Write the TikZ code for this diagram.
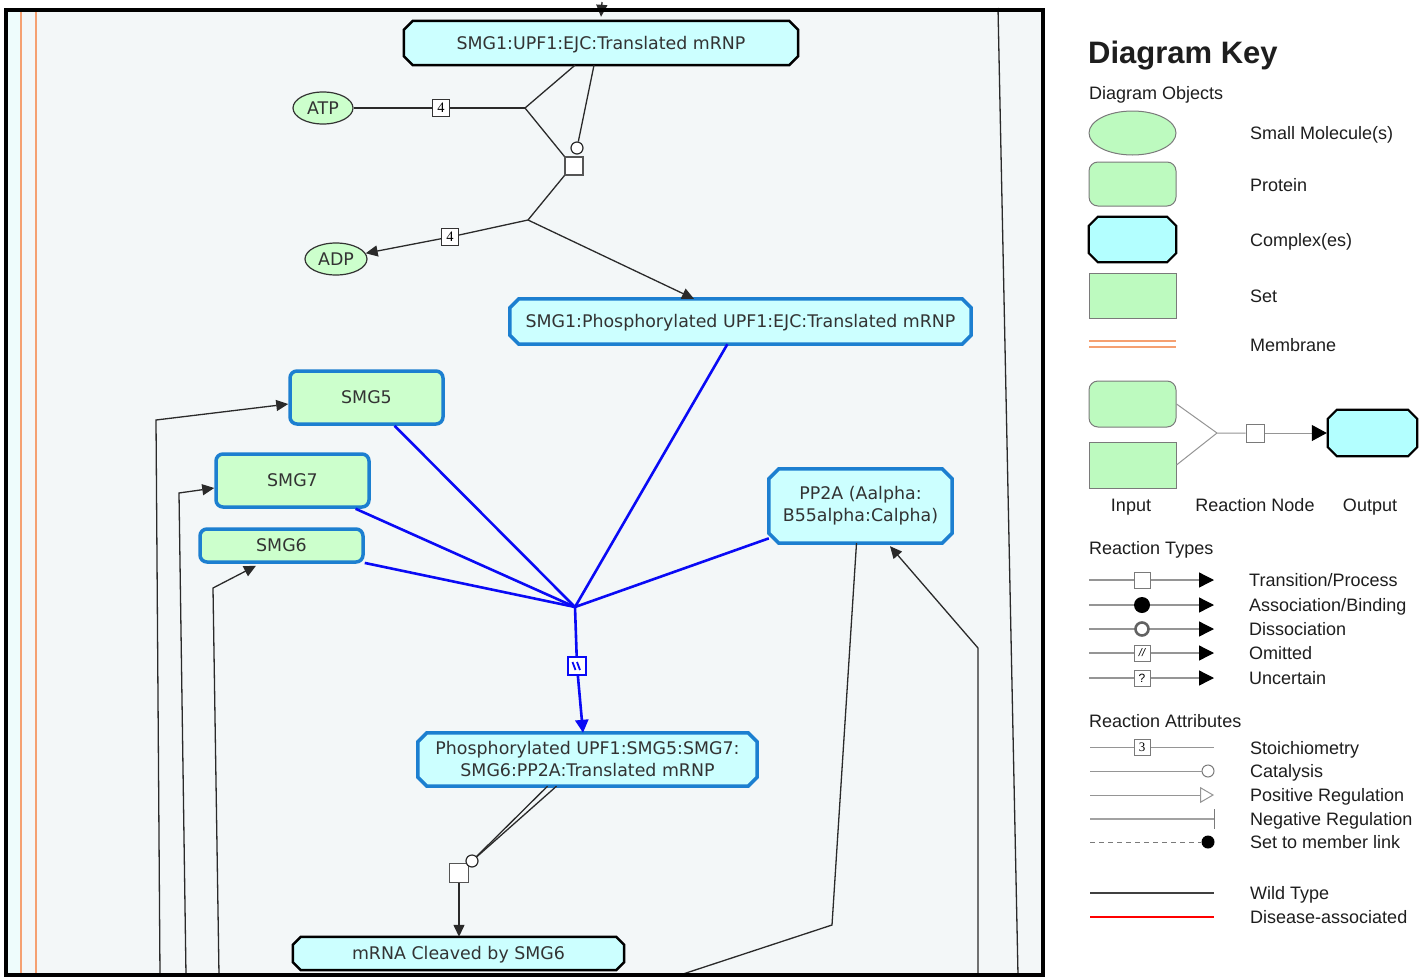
\documentclass[tikz,border=0pt]{standalone}
\usepackage{fontspec}
\setmainfont{Liberation Sans}
\newfontfamily\dv{DejaVu Sans}
\newfontfamily\tms{Liberation Serif}
\usetikzlibrary{arrows.meta,shapes.geometric}
\pgfdeclarelayer{bg}
\pgfsetlayers{bg,main}

\definecolor{panel}{HTML}{F3F7F8}
\definecolor{strip}{HTML}{EEFCFC}
\definecolor{membc}{HTML}{F5A071}
\definecolor{cpxfill}{HTML}{CCFFFF}
\definecolor{protfill}{HTML}{CCFFCC}
\definecolor{blueb}{HTML}{1C7FD0}
\definecolor{txt}{HTML}{333333}
\definecolor{lnc}{HTML}{2A2A2A}
\definecolor{legg}{HTML}{BDFABF}
\definecolor{legc}{HTML}{B3FFFF}
\definecolor{lgray}{HTML}{7A7A7A}
\definecolor{ktxt}{HTML}{1E1E1E}
\definecolor{pblue}{HTML}{0A0AF5}

% octagon outline (complex) drawn behind a named node
\newcommand\octagon[3]{%
  \begin{pgfonlayer}{bg}
  \path[#3] ([xshift=#2]#1.north west) -- ([xshift=-#2]#1.north east)
    -- ([yshift=-#2]#1.north east) -- ([yshift=#2]#1.south east)
    -- ([xshift=-#2]#1.south east) -- ([xshift=#2]#1.south west)
    -- ([yshift=#2]#1.south west) -- ([yshift=-#2]#1.north west) -- cycle;
  \end{pgfonlayer}}

\begin{document}
\begin{tikzpicture}[x=1pt,y=-1pt,
  sz/.style 2 args={minimum width=#1pt, minimum height=#2pt},
  lbl/.style={font=\dv\fontsize{17.4}{22}\selectfont, text=txt, align=center, inner sep=0pt},
  one/.style={text height=12.7pt, text depth=0pt},
  prot/.style={lbl, one, draw=blueb, line width=3.5pt, fill=protfill, rounded corners=7pt},
  smol/.style={lbl, one, ellipse, draw=txt, line width=1.2pt, fill=protfill},
  conn/.style={draw=lnc, line width=1.3pt},
  arr/.style={conn, -{Triangle[length=12pt,width=11pt]}},
  bl/.style={draw=pblue, line width=2.6pt},
  stoi/.style={draw=txt, fill=white, minimum size=17pt, inner sep=0pt, line width=1pt,
    font=\tms\fontsize{14.5}{14.5}\selectfont},
  rxn/.style={draw=lnc!80, fill=white, minimum size=18pt, inner sep=0pt, line width=1.2pt},
  catc/.style={circle, draw=lnc, fill=white, minimum size=12pt, inner sep=0pt, line width=1.2pt},
  memb/.style={draw=membc, line width=2.6pt},
  ktext/.style={anchor=base west, inner sep=0pt, text=ktxt, font=\fontsize{18}{18}\selectfont},
  kshape/.style={draw=lgray, line width=1pt, fill=legg},
  kline/.style={draw=lgray!80, line width=1.3pt},
  ktip/.style={-{Triangle[length=15pt,width=15pt,color=black,fill=black]}},
]
\useasboundingbox (0,0) rectangle (1422,980);

% ---------- pathway panel ----------
\begin{pgfonlayer}{bg}
  \fill[white] (0,0) rectangle (1422,980);
  \fill[panel] (6,10) rectangle (1043,975);
  \fill[strip] (6,10) rectangle (20,975);
\end{pgfonlayer}
\draw[memb] (21,10) -- (21,975);
\draw[memb] (36,10) -- (36,975);

% entities
\node[lbl, one, sz={394}{44}] (c1) at (601,43) {SMG1:UPF1:EJC:Translated mRNP};
\octagon{c1}{9pt}{fill=cpxfill, draw=black, line width=2.5pt}
\node[smol, sz={60}{32}] (atp) at (323,108) {ATP};
\node[smol, sz={62}{32}] (adp) at (336,259) {ADP};
\node[lbl, one, sz={461}{45}] (c2) at (740.5,321.5) {SMG1:Phosphorylated UPF1:EJC:Translated mRNP};
\octagon{c2}{9pt}{fill=cpxfill, draw=blueb, line width=3.5pt}
\node[prot, sz={153}{53}] (smg5) at (366.5,397.5) {SMG5};
\node[prot, sz={153}{53}] (smg7) at (292.5,480.5) {SMG7};
\node[prot, sz={163}{33}] (smg6) at (281.5,545.5) {SMG6};
\node[lbl, sz={183}{74}] (pp2a) at (860.5,506) {PP2A (Aalpha:\\B55alpha:Calpha)};
\octagon{pp2a}{10pt}{fill=cpxfill, draw=blueb, line width=3.5pt}
\node[lbl, sz={339}{53}] (c3) at (587.5,759.5) {Phosphorylated UPF1:SMG5:SMG7:\\SMG6:PP2A:Translated mRNP};
\octagon{c3}{9pt}{fill=cpxfill, draw=blueb, line width=3.5pt}
\node[lbl, one, sz={331}{33}] (c4) at (458.5,953.5) {mRNA Cleaved by SMG6};
\octagon{c4}{8pt}{fill=cpxfill, draw=black, line width=2.5pt}

% UPF1 phosphorylation
\node[stoi] (s1) at (441,108) {4};
\node[stoi] (s2) at (450,237) {4};
\coordinate (j1) at (525,108);
\coordinate (j2) at (528,220);
\node[rxn] (r1) at (574,166) {};
\node[catc] (k1) at (577,148) {};
\draw[conn] (atp) -- (s1);
\draw[conn] (s1) -- (j1);
\draw[conn] ([xshift=-26pt]c1.south) -- (j1);
\draw[conn] (j1) -- (r1.north west);
\draw[conn] ([xshift=-7pt]c1.south) -- (k1);
\draw[conn] (r1.south west) -- (j2);
\draw[conn] (j2) -- (s2);
\draw[arr] (s2) -- (adp);
\draw[arr] (j2) -- ([xshift=-46.5pt]c2.north);
\coordinate (topin) at (602,2);
\draw[arr] (topin) -- ([yshift=4pt]c1.north);

% complex assembly (omitted steps)
\coordinate (hub) at (575,607);
\foreach \n in {smg5,smg7,smg6,c2,pp2a} \draw[bl] (\n) -- (hub);
\node[rxn, draw=pblue, line width=2.2pt] (r2) at (577,666) {};
\draw[pblue, line width=1.8pt] ([shift={(-4.5,-4)}]r2.center) -- ([shift={(-1.5,4)}]r2.center)
  ([shift={(0,-4)}]r2.center) -- ([shift={(3,4)}]r2.center);
\draw[bl] (hub) -- (r2);
\draw[bl, -{Triangle[length=13pt,width=13pt]}] (r2) -- ([xshift=-4.5pt]c3.north);

% mRNA cleavage
\node[rxn, minimum size=19pt] (r3) at (459,873) {};
\node[catc] (k2) at (472,861) {};
\draw[conn] ([xshift=-40pt]c3.south) -- (k2);
\draw[conn] ([xshift=-31pt]c3.south) -- (k2);
\draw[arr] (r3) -- (r3 |- c4.north);

% lines running in from outside the panel
\coordinate (fa) at (160,975); \coordinate (ba) at (156,420);
\draw[arr] (fa) -- (ba) -- ([yshift=-6.5pt]smg5.west);
\coordinate (fb) at (186,975); \coordinate (bb) at (179,493);
\draw[arr] (fb) -- (bb) -- ([yshift=-7.5pt]smg7.west);
\coordinate (fc) at (219,975); \coordinate (bc) at (213,588);
\draw[arr] (fc) -- (bc) -- ([xshift=-25.5pt,yshift=-2pt]smg6.south);
\coordinate (fd) at (680,975); \coordinate (bd) at (832,925);
\draw[conn] ([xshift=-4pt]pp2a.south) -- (bd) -- (fd);
\coordinate (fe) at (978,975); \coordinate (be) at (978,648);
\draw[arr] (fe) -- (be) -- ([xshift=29.5pt,yshift=-3pt]pp2a.south);
\coordinate (ff) at (998,8); \coordinate (fg) at (1018,975);
\draw[conn] (ff) -- (fg);

\draw[line width=4pt] (6,10) rectangle (1043,975);

% ---------- key ----------
\node[anchor=base west, inner sep=0pt, text=ktxt, font=\bfseries\fontsize{31}{31}\selectfont] (kt) at (1088,63) {Diagram Key};
\node[ktext] (kobj) at (1089,99.5) {Diagram Objects};

\node[kshape, ellipse, sz={87}{44}] (ksm) at (1132.5,133) {};
\node[kshape, rounded corners=9pt, sz={87}{44}] (kpr) at (1132.5,184) {};
\node[sz={87}{45}, inner sep=0pt] (kcx) at (1132.5,239.5) {};
\octagon{kcx}{9pt}{fill=legc, draw=black, line width=2.2pt}
\node[kshape, sz={87}{45}] (kset) at (1132.5,296) {};
\coordinate (km1) at (1089,341); \coordinate (km2) at (1176,341);
\coordinate (km3) at (1089,347); \coordinate (km4) at (1176,347);
\draw[draw=membc, line width=2pt] (km1) -- (km2) (km3) -- (km4);

\node[ktext] (lsm) at (1250,139.5) {Small Molecule(s)};
\node[ktext] (lpr) at (1250,191.5) {Protein};
\node[ktext] (lcx) at (1250,246.5) {Complex(es)};
\node[ktext] (lset) at (1250,302.5) {Set};
\node[ktext] (lmb) at (1250,351.5) {Membrane};

% input / reaction node / output
\node[kshape, rounded corners=9pt, sz={87}{46}] (kin1) at (1132.5,404) {};
\node[kshape, sz={87}{46}] (kin2) at (1132.5,465) {};
\coordinate (kj) at (1217,433);
\node[rxn, draw=lgray, line width=1pt] (kr) at (1255,433) {};
\node[sz={89}{46}, inner sep=0pt] (kout) at (1372.5,433) {};
\octagon{kout}{9pt}{fill=legc, draw=black, line width=2.2pt}
\draw[kline, line width=1pt] (kin1.east) -- (kj) (kin2.east) -- (kj) (kj) -- (kr);
\draw[kline, line width=1pt, -{Triangle[length=15pt,width=16pt,color=black,fill=black]}] (kr) -- ([xshift=-1pt]kout.west);
\node[ktext, anchor=base] (lin) at (1131,511.5) {Input};
\node[ktext, anchor=base] (lrn) at (1255,511.5) {Reaction Node};
\node[ktext, anchor=base] (lout) at (1370,511.5) {Output};

% reaction types
\node[ktext] (ltyp) at (1089,554.5) {Reaction Types};
\foreach \y/\n in {580/a,605/b,629/c,653/d,678/e}{
  \coordinate (ls\n) at (1089,\y);
  \coordinate (le\n) at (1214,\y);
  \draw[kline, ktip] (ls\n) -- (le\n);
}
\node[draw=lgray, fill=white, minimum size=16pt, inner sep=0pt, line width=1pt] (ta) at (1142,580) {};
\node[circle, fill=black, minimum size=16pt, inner sep=0pt] (tb) at (1142,605) {};
\node[circle, draw=lgray!80!black, fill=white, minimum size=13pt, inner sep=0pt, line width=2.6pt] (tc) at (1142,629) {};
\node[draw=lgray, fill=white, minimum size=16pt, inner sep=0pt, line width=1pt,
  font=\itshape\fontsize{11}{11}\selectfont] (td) at (1142,653) {//};
\node[draw=lgray, fill=white, minimum size=16pt, inner sep=0pt, line width=1pt,
  font=\fontsize{12}{12}\selectfont] (te) at (1142,678) {?};
\node[ktext] (l1) at (1249,586.5) {Transition/Process};
\node[ktext] (l2) at (1249,611.5) {Association/Binding};
\node[ktext] (l3) at (1249,635.5) {Dissociation};
\node[ktext] (l4) at (1249,659.5) {Omitted};
\node[ktext] (l5) at (1249,684.5) {Uncertain};

% reaction attributes
\node[ktext] (latt) at (1089,727.5) {Reaction Attributes};
\coordinate (sa) at (1090,747); \coordinate (ea) at (1214,747);
\draw[kline, line width=1pt] (sa) -- (ea);
\node[stoi, minimum size=16pt, draw=lgray, font=\tms\fontsize{13}{13}\selectfont] (st3) at (1142,747) {3};
\coordinate (sb) at (1090,771);
\node[circle, draw=lgray, fill=white, minimum size=12pt, inner sep=0pt, line width=1pt] (kc) at (1208,771) {};
\draw[kline, line width=1pt] (sb) -- (kc);
\coordinate (sc) at (1090,795); \coordinate (ec) at (1214,795);
\draw[kline, line width=1pt, -{Triangle[open,length=14pt,width=16pt]}] (sc) -- (ec);
\coordinate (sd) at (1090,819); \coordinate (ed) at (1214,819);
\draw[draw=lgray!70, line width=2.4pt] (sd) -- (ed);
\draw[draw=lgray, line width=1pt] ([yshift=10pt]ed) -- ([yshift=-10pt]ed);
\coordinate (se) at (1090,842);
\node[circle, fill=black, minimum size=13pt, inner sep=0pt] (ke) at (1208,842) {};
\draw[draw=lgray, line width=1pt, dash pattern=on 5pt off 4pt] (se) -- (ke);
\coordinate (sf) at (1090,893); \coordinate (ef) at (1214,893);
\draw[draw=black!75, line width=2.4pt] (sf) -- (ef);
\coordinate (sg) at (1090,917); \coordinate (eg) at (1214,917);
\draw[draw=red, line width=1.4pt] (sg) -- (eg);
\node[ktext] (m1) at (1250,754) {Stoichiometry};
\node[ktext] (m2) at (1250,777) {Catalysis};
\node[ktext] (m3) at (1250,801.5) {Positive Regulation};
\node[ktext] (m4) at (1250,825.5) {Negative Regulation};
\node[ktext] (m5) at (1250,848.5) {Set to member link};
\node[ktext] (m6) at (1250,899.5) {Wild Type};
\node[ktext] (m7) at (1250,923.5) {Disease-associated};
\end{tikzpicture}
\end{document}
